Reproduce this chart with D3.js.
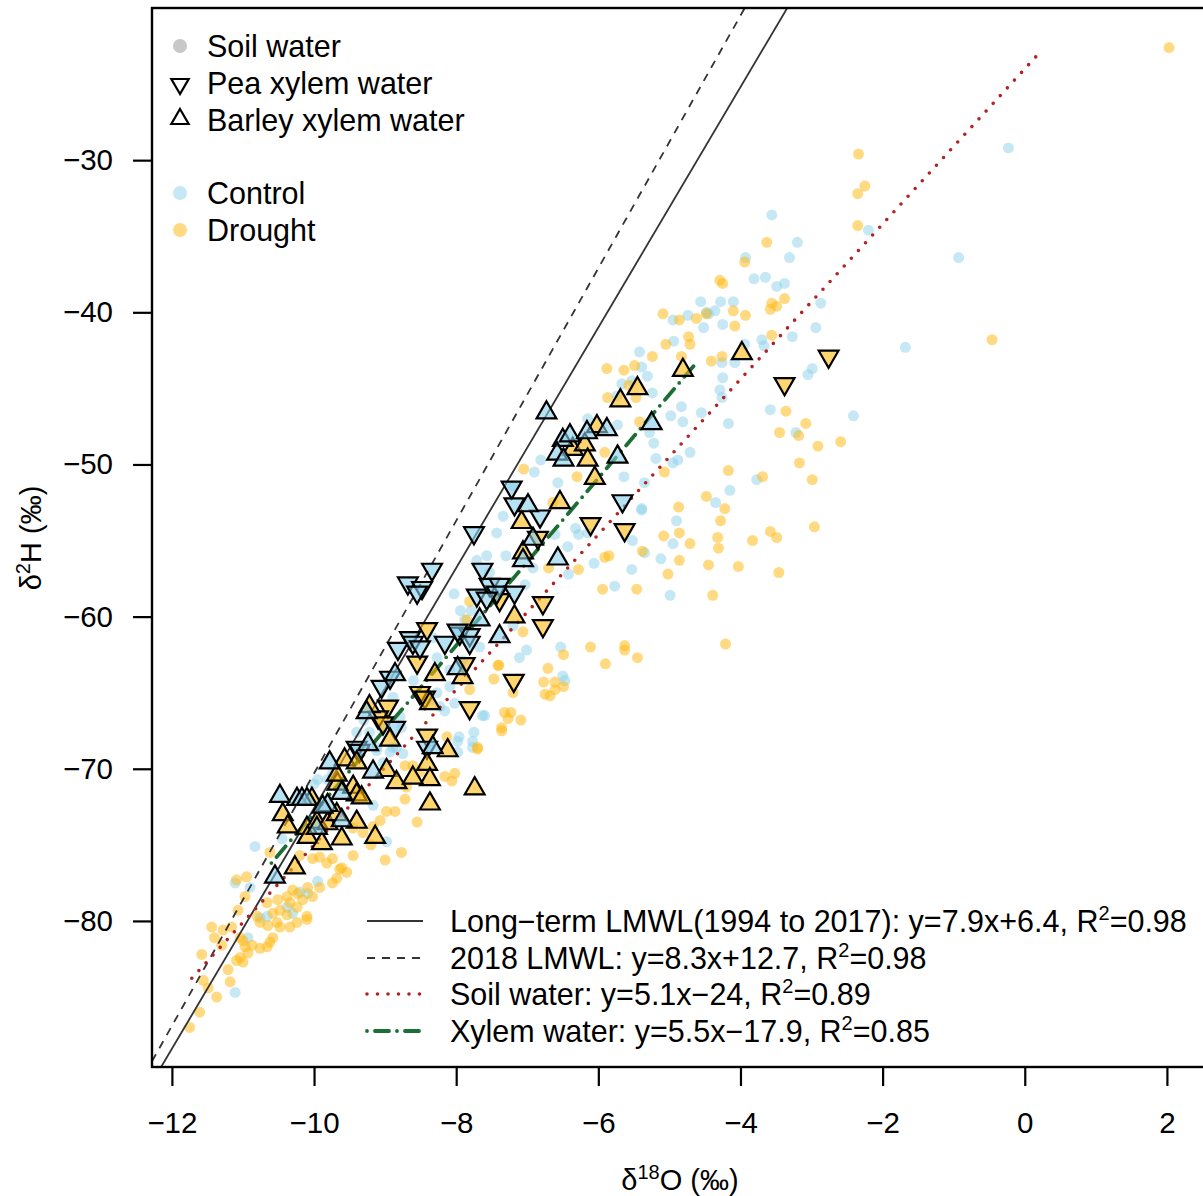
<!DOCTYPE html>
<html>
<head>
<meta charset="utf-8">
<script src="https://cdn.jsdelivr.net/npm/d3@7"></script>
<style>
  body { margin: 0; background: #fff; }
  text { font-family: "Liberation Sans", Arial, sans-serif; }
</style>
</head>
<body>
<script>
// Axis ticks
const xTicks = [-12, -10, -8, -6, -4, -2, 0, 2];
const yTicks = [-30, -40, -50, -60, -70, -80];

// Soil water, [d18O, d2H]
const soilControl = [
  [-0.23,-29.2],[-3.56,-33.6],[-2.2,-34.6],[-3.2,-35.4],[-3.31,-36.4],[-0.93,-36.4],[-3.65,-37.7],[-3.49,-38.3],
  [-3.38,-38.1],[-2.87,-39.4],[-2.94,-41.0],[-3.27,-41.6],[-3.7,-41.8],[-3.67,-42.2],[-1.68,-42.3],[-2.99,-43.7],
  [-3.05,-44.1],[-3.58,-46.4],[-2.41,-46.8],[-3.22,-47.9],[-4.35,-52.5],[-5.39,-52.9],[-4.9,-53.7],[-4.95,-55.2],
  [-5.12,-56.2],[-5.35,-55.8],[-5.52,-55.0],[-5.53,-56.9],[-4.99,-58.6],[-5.77,-58.0],[-6.06,-56.5],[-6.42,-57.2],
  [-6.43,-55.4],[-6.32,-54.2],[-6.28,-54.6],[-6.15,-54.5],[-6.61,-54.6],[-6.53,-62.0],[-6.5,-63.9],[-6.47,-64.2],
  [-7.6,-66.5],[-7.96,-67.9],[-7.75,-67.6],[-7.77,-68.2],[-8.02,-65.7],[-8.16,-66.2],[-3.93,-36.4],[-3.81,-37.8],
  [-4.56,-39.3],[-4.28,-39.3],[-4.1,-39.3],[-4.48,-40.0],[-4.36,-39.9],[-4.45,-40.1],[-4.95,-40.5],[-4.74,-40.2],
  [-4.52,-41.0],[-4.25,-40.8],[-4.94,-41.9],[-3.94,-42.1],[-5.42,-42.6],[-4.26,-43.3],[-4.08,-43.3],[-5.39,-43.6],
  [-5.31,-44.2],[-5.67,-44.7],[-5.53,-44.5],[-4.25,-44.3],[-4.29,-45.1],[-4.26,-45.6],[-5.24,-45.3],[-5.74,-45.5],
  [-4.83,-46.2],[-4.98,-46.8],[-4.81,-47.2],[-4.55,-46.6],[-4.17,-47.3],[-5.22,-48.6],[-5.19,-49.6],[-4.95,-49.9],
  [-4.88,-49.7],[-4.71,-49.2],[-5.28,-47.9],[-5.35,-51.2],[-5.64,-50.8],[-6.57,-51.2],[-6.81,-49.7],[-5.39,-53.0],
  [-4.15,-51.7],[-3.77,-51.0],[-7.34,-53.4],[-7.2,-51.4],[-5.73,-47.4],[-6.15,-47.0],[-7.43,-54.5],[-7.57,-56.0],
  [-7.71,-56.3],[-6.92,-56.8],[-7.94,-59.6],[-7.79,-59.6],[-7.88,-60.2],[-8.03,-58.5],[-7.2,-60.6],[-7.03,-57.9],
  [-10.83,-75.1],[-9.17,-72.4],[-8.98,-74.8],[-9.12,-68.6],[-8.89,-68.6],[-7.77,-68.6],[-10.76,-79.8],[-10.66,-79.7],
  [-10.38,-79.1],[-10.3,-79.5],[-10.2,-78.1],[-10.09,-78.2],[-9.95,-77.4],[-10.93,-81.1],[-11.11,-77.5],[-10.9,-77.8],
  [-11.11,-84.7],[-8.33,-61.4],[-7.67,-62.0],[-7.11,-62.7],[-7.01,-62.2],[-7.63,-66.5],[-7.98,-68.2],[-7.98,-68.9],
  [-8.09,-64.6],[-8.23,-65.9],[-8.37,-65.5],[-8.27,-65.0],[-8.75,-69.0],[-8.84,-68.6],[-8.93,-68.9],[-9.95,-70.7],
  [-9.81,-70.7],[-9.74,-70.3],[-9.12,-68.8],[-9.03,-69.6],[-9.4,-67.6],[-9.22,-67.6],[-9.03,-67.3],[-8.79,-66.6],
  [-8.77,-67.3],[-8.89,-65.3],[-8.09,-63.5],[-7.91,-62.9],[-8.27,-62.7],[-7.53,-57.1],[-10.0,-71.0],[-10.45,-74.6],
  [-9.3,-66.8],[-8.6,-64.2],[-7.3,-56.0],[-6.9,-50.5]
];
const soilDrought = [
  [2.03,-22.6],[-2.34,-29.6],[-2.25,-31.7],[-2.35,-32.2],[-2.35,-34.3],[-3.63,-35.4],[-3.56,-39.4],[-3.49,-39.6],
  [-3.58,-39.8],[-3.38,-39.1],[-3.56,-41.5],[-0.46,-41.8],[-3.36,-46.5],[-3.08,-47.3],[-3.45,-47.9],[-3.18,-48.1],
  [-2.59,-48.5],[-2.91,-48.8],[-3.17,-49.9],[-3.69,-50.8],[-2.99,-51.0],[-3.58,-54.4],[-3.49,-54.8],[-2.96,-54.1],
  [-4.87,-52.8],[-4.22,-52.9],[-4.28,-53.7],[-4.86,-54.5],[-5.08,-54.7],[-4.71,-55.2],[-4.32,-54.8],[-4.31,-55.5],
  [-3.83,-55.0],[-4.03,-56.7],[-3.46,-57.1],[-4.45,-56.6],[-4.86,-56.3],[-5.38,-55.7],[-5.02,-57.2],[-5.46,-58.2],
  [-4.39,-58.6],[-5.94,-58.2],[-5.91,-56.1],[-5.85,-56.0],[-6.28,-56.9],[-6.7,-56.8],[-6.49,-62.5],[-6.11,-62.0],
  [-5.63,-61.9],[-5.63,-62.2],[-5.45,-62.7],[-5.9,-63.1],[-4.21,-61.8],[-6.71,-63.4],[-6.77,-64.3],[-6.61,-64.3],
  [-6.49,-64.6],[-6.61,-64.8],[-6.75,-65.1],[-6.68,-65.2],[-7.4,-63.2],[-7.47,-64.1],[-7.81,-64.8],[-7.2,-65.0],
  [-7.32,-66.3],[-7.23,-66.3],[-7.27,-66.7],[-7.09,-66.8],[-7.36,-67.3],[-7.36,-67.5],[-7.7,-68.7],[-8.13,-67.9],
  [-8.16,-70.5],[-8.02,-70.3],[-8.06,-70.8],[-3.94,-36.7],[-4.29,-37.9],[-4.25,-38.1],[-4.1,-39.9],[-4.62,-40.4],
  [-4.48,-40.1],[-3.93,-40.2],[-4.86,-40.5],[-5.09,-40.1],[-4.08,-40.9],[-4.73,-41.6],[-4.71,-42.1],[-5.05,-42.1],
  [-5.24,-42.9],[-4.83,-42.9],[-4.41,-43.2],[-4.26,-42.9],[-5.88,-43.7],[-5.64,-43.8],[-5.49,-43.5],[-5.57,-44.8],
  [-5.87,-45.6],[-5.47,-45.6],[-5.42,-47.2],[-6.3,-50.8],[-7.05,-50.3],[-4.17,-50.4],[-4.48,-52.1],[-6.64,-52.5],
  [-5.07,-50.5],[-5.91,-49.2],[-7.85,-60.2],[-7.06,-61.0],[-7.81,-59.0],[-7.41,-63.2],[-10.62,-75.5],[-10.2,-75.7],
  [-10.02,-75.9],[-9.92,-75.8],[-9.82,-76.2],[-9.74,-75.9],[-9.61,-76.5],[-9.45,-75.7],[-9.54,-76.8],[-9.68,-77.2],
  [-8.77,-75.5],[-8.55,-73.5],[-8.72,-72.0],[-8.98,-72.8],[-8.86,-72.8],[-9.07,-73.4],[-9.17,-73.8],[-9.45,-73.9],
  [-9.31,-74.2],[-8.61,-69.8],[-8.72,-69.8],[-8.51,-70.2],[-7.7,-68.6],[-10.3,-77.96],[-10.23,-78.2],[-10.38,-78.4],
  [-10.34,-78.8],[-10.16,-78.6],[-10.02,-78.4],[-10.24,-79.1],[-10.1,-79.7],[-10.48,-79.3],[-10.38,-79.6],[-10.58,-79.5],
  [-10.52,-80.1],[-10.65,-80.3],[-10.76,-80.1],[-10.8,-79.7],[-10.66,-78.8],[-10.51,-78.6],[-9.64,-76.6],[-9.74,-77.5],
  [-9.92,-77.8],[-10.09,-77.8],[-10.1,-79.9],[-10.24,-80.1],[-10.34,-80.4],[-10.48,-80.4],[-10.58,-81.1],[-10.62,-81.4],
  [-10.66,-81.7],[-10.76,-81.8],[-10.87,-81.6],[-10.97,-81.7],[-10.93,-82.1],[-11.04,-82.4],[-11.0,-82.7],[-11.09,-82.6],
  [-11.04,-81.1],[-11.0,-81.3],[-11.09,-77.3],[-10.95,-77.1],[-10.97,-78.4],[-11.07,-79.3],[-11.16,-80.4],[-11.28,-80.6],
  [-11.44,-80.4],[-11.4,-81.1],[-11.3,-81.6],[-11.58,-82.2],[-11.21,-83.2],[-11.18,-84.0],[-11.56,-83.9],[-11.49,-84.4],
  [-11.37,-85.0],[-11.61,-86.0],[-11.75,-87.0],[-9.2,-75.0],[-9.0,-76.0],[-8.7,-71.2]
];

// Xylem water, [d18O, d2H]
const peaControl = [
  [-7.75,-54.5],[-7.22,-51.5],[-7.18,-52.6],[-6.82,-53.4],[-5.66,-52.4],[-7.63,-56.9],[-8.34,-56.9],[-8.68,-57.8],
  [-8.48,-58.1],[-8.55,-58.4],[-7.53,-57.9],[-7.39,-57.9],[-7.43,-58.4],[-7.71,-58.6],[-7.18,-58.4],[-7.57,-58.8],
  [-7.95,-61.1],[-7.81,-61.2],[-8.65,-61.4],[-8.82,-62.1],[-8.61,-61.7],[-8.51,-62.0],[-8.16,-61.7],[-7.98,-60.9],
  [-7.81,-61.7],[-9.05,-64.6],[-8.93,-64.0],[-8.86,-67.3],[-9.4,-68.6],[-9.36,-68.8],[-8.41,-68.6]
];
const peaDrought = [
  [-2.76,-42.9],[-3.38,-44.7],[-6.11,-53.9],[-5.63,-54.3],[-6.78,-59.1],[-6.78,-60.6],[-7.19,-64.2],[-7.81,-66.0],
  [-6.85,-54.8],[-7.39,-58.9],[-8.41,-60.8],[-8.55,-63.0],[-7.88,-63.1],[-8.51,-65.0],[-8.44,-65.3],[-8.96,-65.9],
  [-9.1,-66.6],[-9.03,-67.0],[-8.41,-67.8]
];
const barleyControl = [
  [-6.73,-46.6],[-5.25,-47.3],[-6.5,-48.4],[-6.4,-48.1],[-6.16,-47.9],[-5.88,-47.7],[-6.58,-49.3],[-6.49,-49.7],
  [-5.73,-49.5],[-6.57,-56.2],[-6.99,-52.7],[-6.92,-54.9],[-7.06,-56.3],[-7.67,-60.2],[-7.39,-61.3],[-7.98,-63.4],
  [-8.86,-63.8],[-9.26,-66.3],[-9.24,-68.4],[-8.33,-68.6],[-9.78,-69.6],[-10.48,-71.8],[-10.24,-72.0],[-10.17,-72.0],
  [-10.1,-72.0],[-9.81,-72.4],[-9.88,-72.5],[-9.61,-71.6],[-9.61,-73.4],[-9.96,-73.9],[-9.17,-70.2],[-10.55,-77.1]
];
const barleyDrought = [
  [-3.98,-42.7],[-4.81,-43.8],[-5.45,-45.0],[-5.69,-45.8],[-6.36,-49.0],[-6.19,-48.7],[-6.02,-47.5],[-6.15,-49.7],
  [-6.05,-50.9],[-6.54,-52.5],[-7.08,-53.8],[-7.06,-55.8],[-7.18,-60.0],[-7.91,-64.0],[-8.3,-63.8],[-8.37,-65.7],
  [-9.22,-65.9],[-8.93,-68.1],[-8.12,-68.8],[-9.57,-69.4],[-9.4,-69.6],[-8.41,-69.7],[-8.98,-70.1],[-8.84,-70.9],
  [-8.37,-70.7],[-8.61,-70.6],[-7.74,-71.3],[-9.45,-71.2],[-9.67,-71.0],[-9.68,-70.4],[-9.4,-71.7],[-9.33,-71.9],
  [-10.03,-72.0],[-10.44,-73.0],[-10.37,-73.8],[-10.1,-73.9],[-9.96,-73.5],[-9.81,-73.6],[-9.68,-73.0],[-9.4,-73.5],
  [-10.09,-74.5],[-9.89,-74.9],[-9.61,-74.6],[-9.14,-74.5],[-8.37,-72.3],[-10.27,-76.5]
];

// Regression / meteoric water lines: slope, intercept, x range (null = full plot)
const lineNames = ["Long\u2212term LMWL(1994 to 2017): y=7.9x+6.4, R", "2018 LMWL: y=8.3x+12.7, R", "Soil water: y=5.1x\u221224, R", "Xylem water: y=5.5x\u221217.9, R"];
const lineR2 = ["=0.98", "=0.98", "=0.89", "=0.85"];
const lineSlopes = [7.9, 8.3, 5.1, 5.5];
const lineIntercepts = [6.4, 12.7, -24, -17.9];
const lineRanges = [null, null, [-11.72, 0.25], [-10.6, -4.6]];

const width = 1203, height = 1196;
const plot = { left: 152, top: 8, right: 1206, bottom: 1067 };
const colControl = "#87ceeb", colDrought = "#ffb90f";
const fontMain = 30.5, fontTick = 29.5, fontSup = 20;
const lineStyles = [
  { stroke: "#333", width: 1.8, dash: null, cap: "butt" },
  { stroke: "#333", width: 1.8, dash: "8,7", cap: "butt" },
  { stroke: "#b22222", width: 3.6, dash: "0,10.5", cap: "round" },
  { stroke: "#1b6e34", width: 3.8, dash: "0,8,14,8", cap: "round" }
];

const svg = d3.select("body").append("svg")
  .attr("width", width).attr("height", height);

const x = d3.scaleLinear().domain([-12.28, 2.55]).range([plot.left, plot.right]);
const y = d3.scaleLinear().domain([-89.6, -20]).range([plot.bottom, plot.top]);

svg.append("clipPath").attr("id", "clip")
  .append("rect").attr("x", plot.left).attr("y", plot.top)
  .attr("width", plot.right - plot.left).attr("height", plot.bottom - plot.top);

const g = svg.append("g").attr("clip-path", "url(#clip)");

// soil water circles
function soil(data, col, op) {
  g.append("g").selectAll("circle").data(data).join("circle")
    .attr("cx", d => x(d[0])).attr("cy", d => y(d[1])).attr("r", 5.5)
    .attr("fill", col).attr("fill-opacity", op);
}
soil(soilControl, colControl, 0.48);
soil(soilDrought, colDrought, 0.52);

// fitted lines
lineSlopes.forEach((b, i) => {
  const r = lineRanges[i] || x.domain();
  const st = lineStyles[i];
  g.append("line")
    .attr("x1", x(r[0])).attr("y1", y(b * r[0] + lineIntercepts[i]))
    .attr("x2", x(r[1])).attr("y2", y(b * r[1] + lineIntercepts[i]))
    .attr("stroke", st.stroke).attr("stroke-width", st.width)
    .attr("stroke-dasharray", st.dash).attr("stroke-linecap", st.cap);
});

// xylem triangles
const triSize = 170;
function tri(data, col, down) {
  g.append("g").selectAll("path").data(data).join("path")
    .attr("d", d3.symbol(d3.symbolTriangle, triSize))
    .attr("transform", d => `translate(${x(d[0])},${y(d[1])})${down ? " rotate(180)" : ""}`)
    .attr("fill", col).attr("fill-opacity", 0.6)
    .attr("stroke", "#000").attr("stroke-width", 2.2).attr("stroke-linejoin", "miter");
}
tri(peaDrought, colDrought, true);
tri(peaControl, colControl, true);
tri(barleyDrought, colDrought, false);
tri(barleyControl, colControl, false);

// box
svg.append("rect").attr("x", plot.left).attr("y", plot.top)
  .attr("width", plot.right - plot.left).attr("height", plot.bottom - plot.top)
  .attr("fill", "none").attr("stroke", "#000").attr("stroke-width", 2.4);

// axes
const xAxis = svg.append("g").attr("transform", `translate(0,${plot.bottom})`)
  .call(d3.axisBottom(x).tickValues(xTicks).tickSize(19).tickPadding(26).tickFormat(d3.format("d")));
const yAxis = svg.append("g").attr("transform", `translate(${plot.left},0)`)
  .call(d3.axisLeft(y).tickValues(yTicks).tickSize(19).tickPadding(20).tickFormat(d3.format("d")));
[xAxis, yAxis].forEach(a => {
  a.select(".domain").remove();
  a.selectAll(".tick line").attr("stroke", "#000").attr("stroke-width", 2.2);
  a.selectAll("text").attr("font-size", fontTick).attr("fill", "#000")
    .attr("font-family", "Liberation Sans, Arial, sans-serif");
});

// axis titles
const xt = svg.append("text").attr("x", 680).attr("y", 1190)
  .attr("text-anchor", "middle").attr("font-size", 29);
xt.append("tspan").text("\u03b4");
xt.append("tspan").text("18").attr("font-size", fontSup).attr("dy", -11);
xt.append("tspan").text("O (\u2030)").attr("dy", 11);

const yt = svg.append("text").attr("transform", "translate(41,538) rotate(-90)")
  .attr("text-anchor", "middle").attr("font-size", 29);
yt.append("tspan").text("\u03b4");
yt.append("tspan").text("2").attr("font-size", fontSup).attr("dy", -11);
yt.append("tspan").text("H (\u2030)").attr("dy", 11);

// top-left legend
const legTop = [
  { label: "Soil water", shape: "circle", fill: "#c8c8c8", y: 46 },
  { label: "Pea xylem water", shape: "down", y: 83 },
  { label: "Barley xylem water", shape: "up", y: 120 },
  { label: "Control", shape: "circle", fill: colControl, op: 0.48, y: 193 },
  { label: "Drought", shape: "circle", fill: colDrought, op: 0.52, y: 230 }
];
legTop.forEach(d => {
  if (d.shape === "circle") {
    svg.append("circle").attr("cx", 180).attr("cy", d.y).attr("r", 7)
      .attr("fill", d.fill).attr("fill-opacity", d.op || 1);
  } else {
    svg.append("path").attr("d", d3.symbol(d3.symbolTriangle, 130))
      .attr("transform", `translate(180,${d.y + (d.shape === "down" ? 1 : -1)})${d.shape === "down" ? " rotate(180)" : ""}`)
      .attr("fill", "#fff").attr("stroke", "#000").attr("stroke-width", 2.2);
  }
  svg.append("text").attr("x", 207).attr("y", d.y + 11).attr("font-size", fontMain).text(d.label);
});

// bottom-right legend
const legY = [921, 958, 994, 1031];
lineNames.forEach((name, i) => {
  const st = lineStyles[i];
  svg.append("line").attr("x1", 367).attr("x2", 423).attr("y1", legY[i]).attr("y2", legY[i])
    .attr("stroke", st.stroke).attr("stroke-width", st.width)
    .attr("stroke-dasharray", st.dash).attr("stroke-linecap", st.cap);
  const t = svg.append("text").attr("x", 450).attr("y", legY[i] + 11).attr("font-size", fontMain);
  t.append("tspan").text(name);
  t.append("tspan").text("2").attr("font-size", fontSup).attr("dy", -12);
  t.append("tspan").text(lineR2[i]).attr("dy", 12);
});
</script>
</body>
</html>
